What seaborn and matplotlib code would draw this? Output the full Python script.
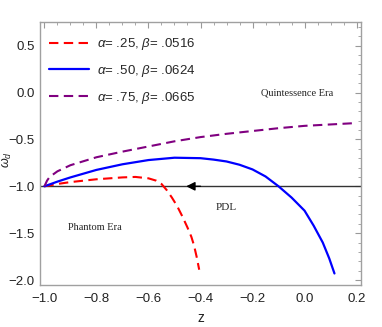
import numpy as np
import pandas as pd
import matplotlib
matplotlib.use("Agg")
import matplotlib.pyplot as plt
import seaborn as sns
from matplotlib.ticker import MultipleLocator

# ---- data ----
z_red = [-1.0, -0.95, -0.9, -0.8, -0.7, -0.65, -0.6, -0.57, -0.55, -0.53, -0.51, -0.49, -0.47, -0.45, -0.435, -0.425, -0.415, -0.405]
w_red = [-1.0, -0.975, -0.955, -0.925, -0.905, -0.90, -0.915, -0.94, -0.975, -1.04, -1.12, -1.21, -1.32, -1.44, -1.54, -1.63, -1.75, -1.89]

z_blue = [-1.0, -0.95, -0.9, -0.8, -0.7, -0.6, -0.5, -0.4, -0.35, -0.3, -0.25, -0.2, -0.15, -0.1, -0.05, 0.0, 0.035, 0.07, 0.095, 0.115]
w_blue = [-1.0, -0.95, -0.905, -0.825, -0.765, -0.72, -0.695, -0.70, -0.715, -0.735, -0.77, -0.82, -0.895, -1.0, -1.12, -1.26, -1.42, -1.60, -1.77, -1.93]

z_purple = [-1.0, -0.99, -0.98, -0.95, -0.9, -0.8, -0.7, -0.6, -0.5, -0.4, -0.3, -0.2, -0.1, 0.0, 0.1, 0.2]
w_purple = [-1.0, -0.94, -0.90, -0.84, -0.775, -0.69, -0.63, -0.575, -0.52, -0.475, -0.44, -0.41, -0.38, -0.355, -0.34, -0.325]

labels = [r"$\alpha$= .25, $\beta$= .0516",
          r"$\alpha$= .50, $\beta$= .0624",
          r"$\alpha$= .75, $\beta$= .0665"]
colors = ["#ff0000", "#0000ff", "#800080"]

x_ticks = [-1.0, -0.8, -0.6, -0.4, -0.2, 0.0, 0.2]
y_ticks = [0.5, 0.0, -0.5, -1.0, -1.5, -2.0]

pdl_level = -1.0
arrow_tip = -0.455
arrow_tail = -0.40

annotations = [("Quintessence Era", -0.03, 0.0, 7.5),
               ("PDL", -0.30, -1.23, 8),
               ("Phantom Era", -0.805, -1.44, 7.5)]

# ---- plotting ----
sns.set_style("white")
plt.rcParams["font.family"] = ["Liberation Sans", "DejaVu Sans"]
plt.rcParams["mathtext.fontset"] = "custom"
plt.rcParams["mathtext.it"] = "Liberation Sans:italic"
plt.rcParams["mathtext.rm"] = "Liberation Sans"

fig = plt.figure(figsize=(3.82, 3.27), dpi=100)
ax = fig.add_axes([40/382, 1-285/327, (361-40)/382, (285-22)/327])

df = pd.concat([
    pd.DataFrame({"z": z_red, "w": w_red, "s": labels[0]}),
    pd.DataFrame({"z": z_blue, "w": w_blue, "s": labels[1]}),
    pd.DataFrame({"z": z_purple, "w": w_purple, "s": labels[2]}),
])

# horizontal phantom divide line
ax.axhline(pdl_level, color="#333333", lw=1.0, zorder=1)

styles = [(0, (4.5, 2.6)), "-", (0, (4.5, 2.6))]
widths = [1.5, 1.6, 1.5]
for lab, c, ls, lw in zip(labels, colors, styles, widths):
    sub = df[df["s"] == lab]
    sns.lineplot(data=sub, x="z", y="w", ax=ax, color=c, lw=lw, linestyle=ls,
                 label=lab, sort=False, estimator=None, zorder=3)

ax.annotate("", xy=(arrow_tip, pdl_level), xytext=(arrow_tail, pdl_level),
            arrowprops=dict(arrowstyle="-|>", mutation_scale=13, color="black",
                            lw=1.0, shrinkA=0, shrinkB=0), zorder=4)

for txt, x, y, fs in annotations:
    ax.text(x, y, txt, fontsize=fs, family=["Liberation Serif", "DejaVu Serif"],
            ha="center", va="center", color="#222222")

ax.set_xlim(-1.017, 0.217)
ax.set_ylim(-2.053, 0.753)
ax.set_xticks(x_ticks)
ax.set_yticks(y_ticks)
ax.set_xticklabels([f"{t:.1f}".replace("-", "\u2212") for t in x_ticks])
ax.set_yticklabels([f"{t:.1f}".replace("-", "\u2212") for t in y_ticks])
ax.xaxis.set_minor_locator(MultipleLocator(0.05))
ax.yaxis.set_minor_locator(MultipleLocator(0.1))
ax.tick_params(which="both", direction="in", top=True, right=True,
               color="#999999", labelsize=9.5, labelcolor="#222222")
ax.tick_params(axis="x", which="major", pad=6)
ax.tick_params(axis="y", which="major", pad=4)
ax.tick_params(which="major", length=4, width=0.8)
ax.tick_params(which="minor", length=2, width=0.6)
for sp in ax.spines.values():
    sp.set_color("#a0a0a0")
    sp.set_linewidth(1.0)

ax.set_xlabel("z", fontsize=10, color="#222222")
ax.xaxis.set_label_coords(0.5, -0.10)
ax.set_ylabel(r"$\omega_d$", fontsize=9, color="#222222")
ax.yaxis.set_label_coords(-0.080, 0.475)

leg = ax.legend(loc="upper left", frameon=False, fontsize=9.5,
                handlelength=3.0, labelspacing=0.8, handletextpad=0.6,
                borderaxespad=0.3, bbox_to_anchor=(0.0, 0.98))

fig.savefig("out.png", dpi=100)
